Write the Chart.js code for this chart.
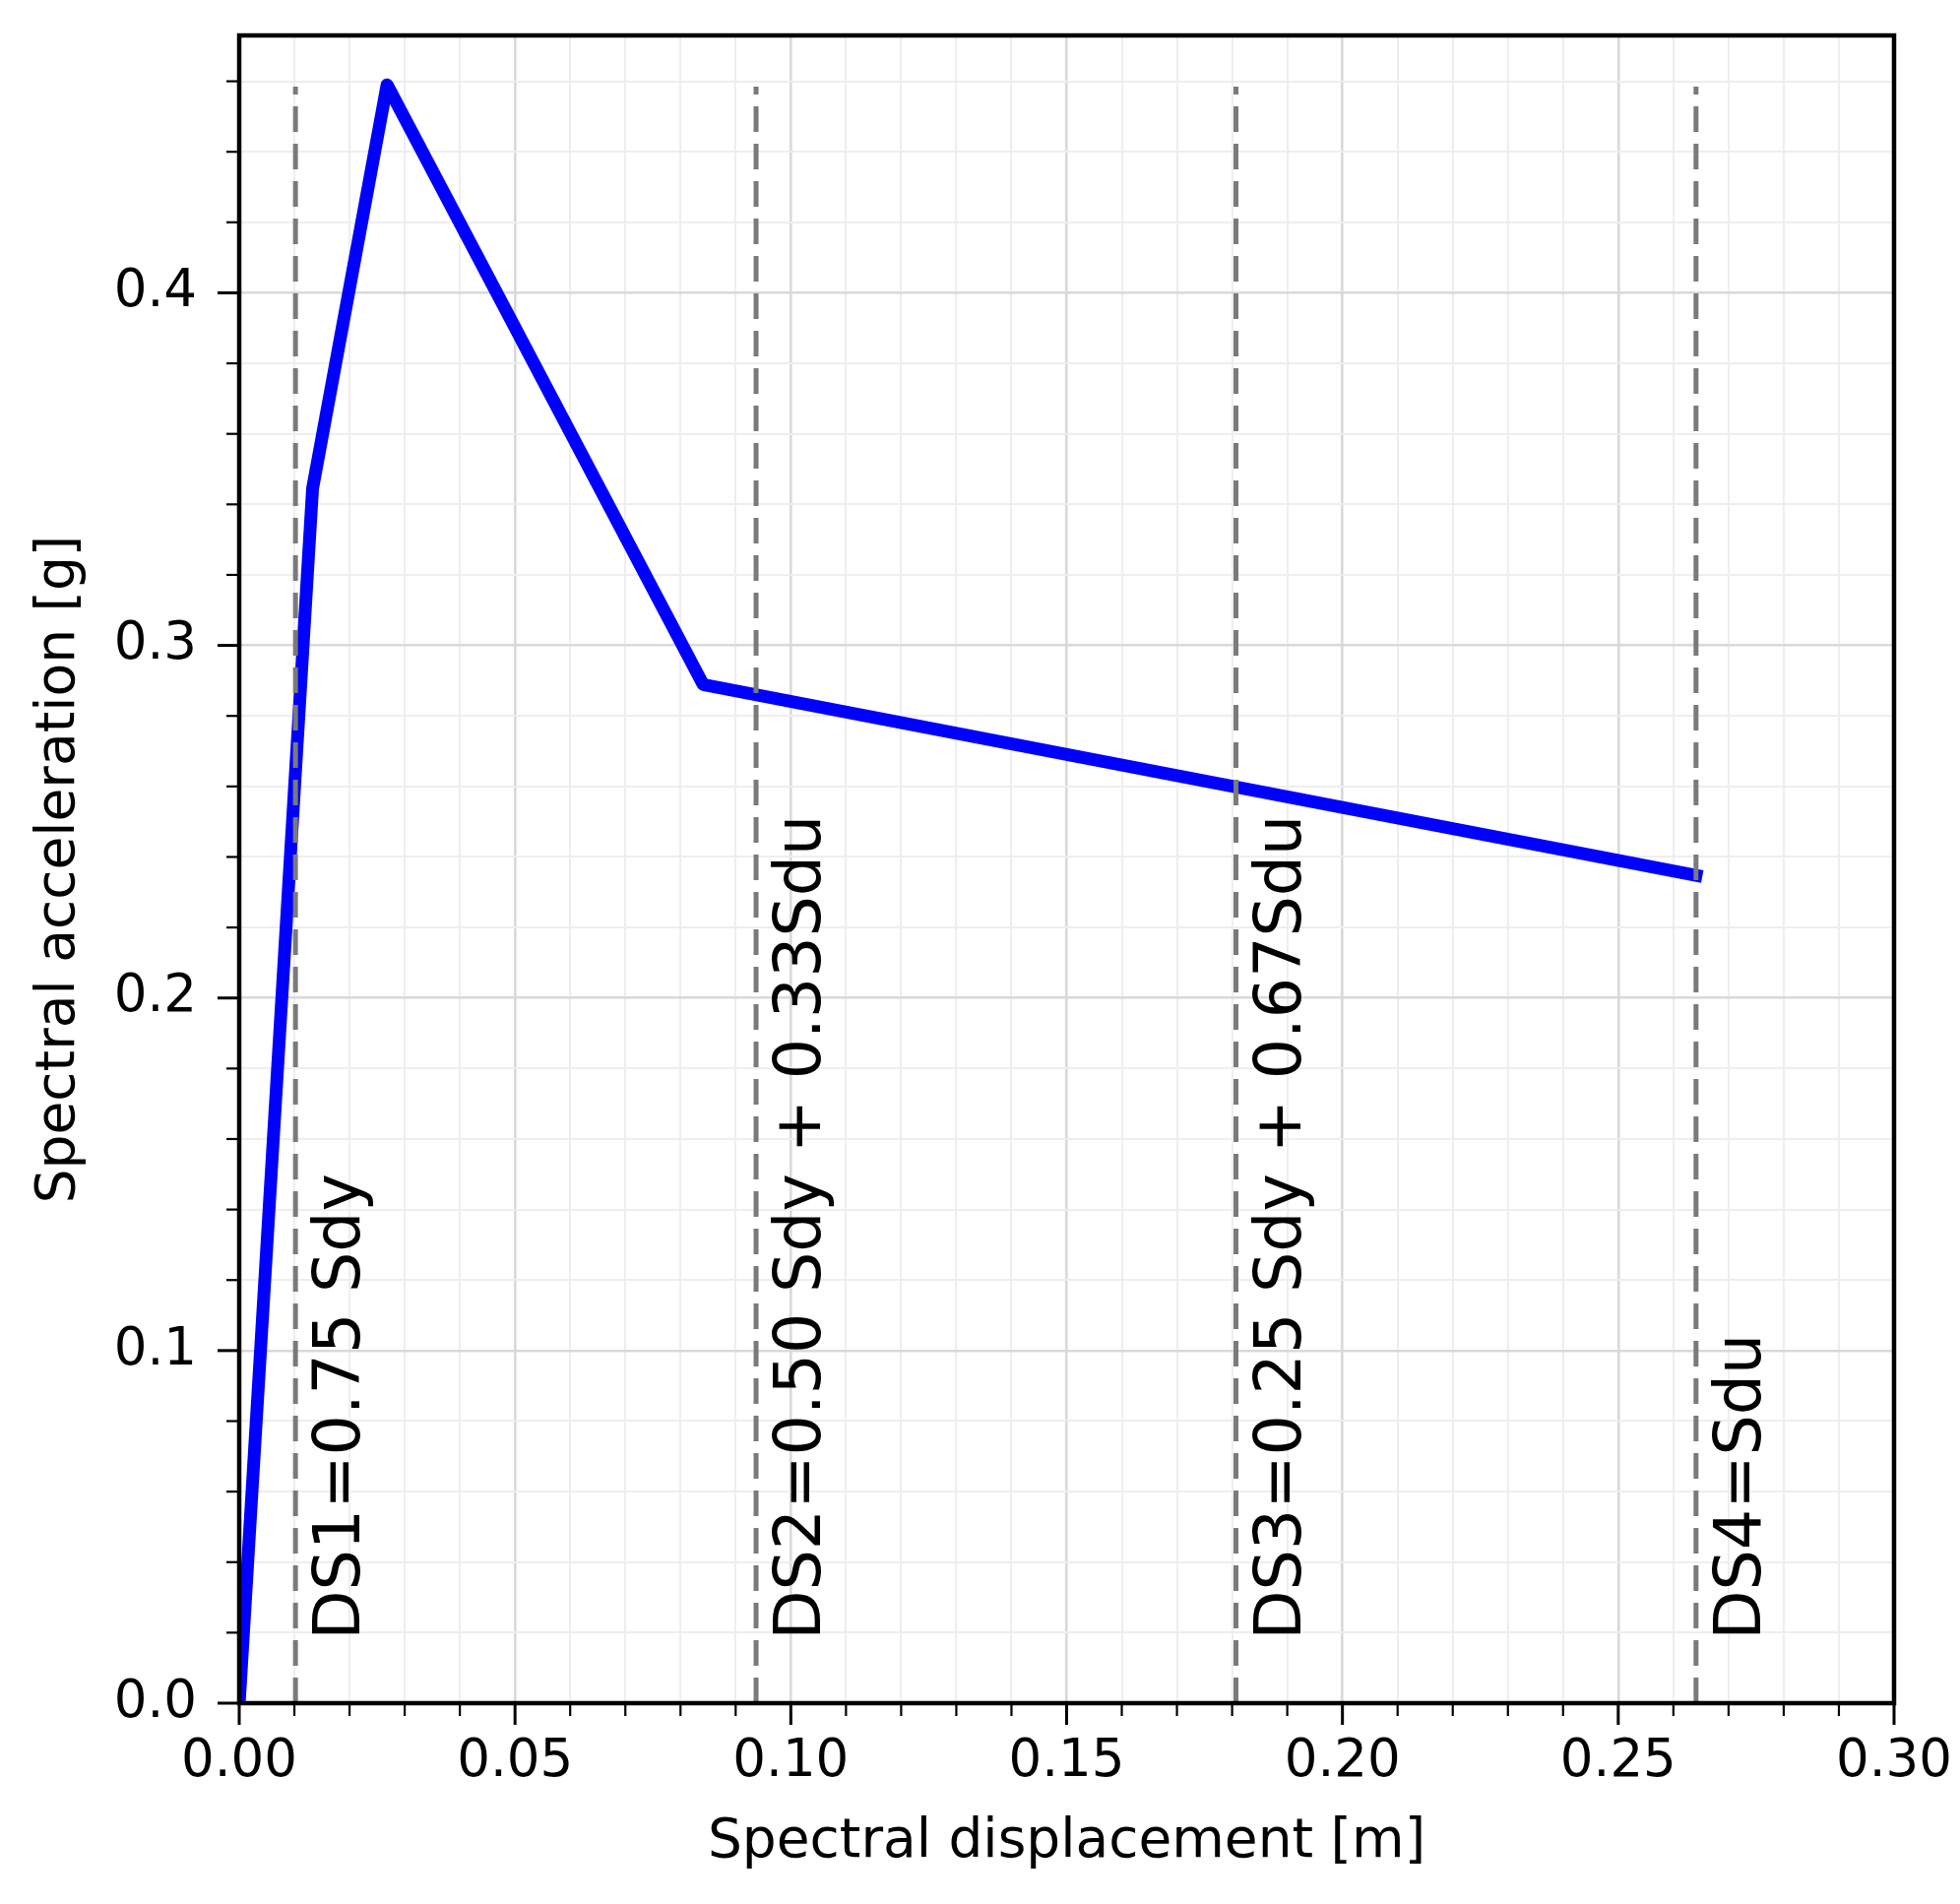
<!DOCTYPE html>
<html><head><meta charset="utf-8">
<script src="https://cdn.jsdelivr.net/npm/chart.js@4/dist/chart.umd.min.js"></script>
<style>html,body{margin:0;padding:0;background:#fff;} canvas{display:block;}</style>
</head><body>
<canvas id="c" width="1991" height="1934"></canvas>
<script>
// ---- data ----
const sdValues = [0, 0.0133, 0.0268, 0.0841, 0.2641];      // spectral displacement [m]
const saValues = [0, 0.3445, 0.4590, 0.2889, 0.2348];      // spectral acceleration [g]
const dsPositions = [0.0102, 0.0937, 0.1807, 0.2641];      // damage-state thresholds
const dsLabels = ['DS1=0.75 Sdy', 'DS2=0.50 Sdy + 0.33Sdu', 'DS3=0.25 Sdy + 0.67Sdu', 'DS4=Sdu'];
const dsLineRange = [0, 0.4585];
const dsLabelY = 0.018;
const xMajorTicks = [0.00, 0.05, 0.10, 0.15, 0.20, 0.25, 0.30];
const xTickLabels = ['0.00', '0.05', '0.10', '0.15', '0.20', '0.25', '0.30'];
const yMajorTicks = [0.0, 0.1, 0.2, 0.3, 0.4];
const yTickLabels = ['0.0', '0.1', '0.2', '0.3', '0.4'];
const xMinorStep = 0.01, yMinorStep = 0.02;
const xRange = [0, 0.30], yRange = [0, 0.473];

const FONT = 'DejaVu Sans';
function near(a, b) { return Math.abs(a - b) < 1e-9; }
function majorIndex(list, v) { return list.findIndex(m => near(m, v)); }
function buildTicks(min, max, step) {
  const out = []; const n = Math.floor((max - min) / step + 1e-6);
  for (let i = 0; i <= n; i++) out.push({ value: Math.round((min + i * step) * 1e6) / 1e6 });
  return out;
}
function zeroPad(s) { s.paddingLeft = 0; s.paddingRight = 0; s.paddingTop = 0; s.paddingBottom = 0; }

const curve = sdValues.map((x, i) => ({ x: x, y: saValues[i] }));
const dsDatasets = dsPositions.map(d => ({
  data: [{ x: d, y: dsLineRange[0] }, { x: d, y: dsLineRange[1] }],
  borderColor: '#7a7a7a', borderWidth: 5, borderDash: [26, 12],
  pointRadius: 0, showLine: true, order: 0
}));

const framePlugin = {
  id: 'frame',
  afterDatasetsDraw(chart) {
    const { ctx, chartArea: a, scales: { x, y } } = chart;
    ctx.save();
    ctx.strokeStyle = '#000'; ctx.lineCap = 'butt';
    x.ticks.forEach(t => {
      const px = x.getPixelForValue(t.value);
      const maj = majorIndex(xMajorTicks, t.value) >= 0;
      ctx.lineWidth = maj ? 3 : 2.2;
      ctx.beginPath(); ctx.moveTo(px, a.bottom); ctx.lineTo(px, a.bottom + (maj ? 22 : 13)); ctx.stroke();
    });
    y.ticks.forEach(t => {
      const py = y.getPixelForValue(t.value);
      const maj = majorIndex(yMajorTicks, t.value) >= 0;
      ctx.lineWidth = maj ? 3 : 2.2;
      ctx.beginPath(); ctx.moveTo(a.left, py); ctx.lineTo(a.left - (maj ? 22 : 13), py); ctx.stroke();
    });
    ctx.lineWidth = 4.5;
    ctx.strokeRect(a.left, a.top, a.right - a.left, a.bottom - a.top);
    ctx.fillStyle = '#000';
    ctx.font = '65px "' + FONT + '"';
    ctx.textAlign = 'left'; ctx.textBaseline = 'alphabetic';
    dsPositions.forEach((d, i) => {
      const px = x.getPixelForValue(d) + 65;
      const py = y.getPixelForValue(dsLabelY);
      ctx.save(); ctx.translate(px, py); ctx.rotate(-Math.PI / 2);
      ctx.fillText(dsLabels[i], 0, 0); ctx.restore();
    });
    ctx.restore();
  }
};

new Chart(document.getElementById('c'), {
  type: 'scatter',
  data: {
    datasets: [
      { data: curve, borderColor: '#0000ff', borderWidth: 13, showLine: true, pointRadius: 0,
        borderJoinStyle: 'round', borderCapStyle: 'square', tension: 0, order: 1 },
      ...dsDatasets
    ]
  },
  options: {
    responsive: false, animation: false, devicePixelRatio: 1,
    layout: { padding: { top: 36, right: 67, bottom: 0, left: 0 } },
    plugins: { legend: { display: false }, tooltip: { enabled: false }, title: { display: false } },
    scales: {
      x: {
        type: 'linear', min: xRange[0], max: xRange[1],
        afterBuildTicks: s => { s.ticks = buildTicks(xRange[0], xRange[1], xMinorStep); },
        afterFit: s => { s.height = 204; zeroPad(s); },
        ticks: {
          autoSkip: false, maxRotation: 0, minRotation: 0, padding: 28, color: '#000',
          font: { family: FONT, size: 53 },
          callback: v => { const i = majorIndex(xMajorTicks, v); return i >= 0 ? xTickLabels[i] : ''; }
        },
        grid: {
          drawTicks: false,
          color: c => (c.tick && majorIndex(xMajorTicks, c.tick.value) >= 0) ? '#d9d9d9' : '#eeeeee',
          lineWidth: c => (c.tick && majorIndex(xMajorTicks, c.tick.value) >= 0) ? 2.6 : 2
        },
        border: { display: false },
        title: { display: true, text: 'Spectral displacement [m]', color: '#000',
                 font: { family: FONT, size: 55 }, padding: { top: 0, bottom: 29 } }
      },
      y: {
        type: 'linear', min: yRange[0], max: yRange[1],
        afterBuildTicks: s => { s.ticks = buildTicks(yRange[0], yRange[1], yMinorStep); },
        afterFit: s => { s.width = 243; zeroPad(s); },
        ticks: {
          autoSkip: false, padding: 43, color: '#000',
          font: { family: FONT, size: 53 },
          callback: v => { const i = majorIndex(yMajorTicks, v); return i >= 0 ? yTickLabels[i] : ''; }
        },
        grid: {
          drawTicks: false,
          color: c => (c.tick && majorIndex(yMajorTicks, c.tick.value) >= 0) ? '#d9d9d9' : '#eeeeee',
          lineWidth: c => (c.tick && majorIndex(yMajorTicks, c.tick.value) >= 0) ? 2.6 : 2
        },
        border: { display: false },
        title: { display: true, text: 'Spectral acceleration [g]', color: '#000',
                 font: { family: FONT, size: 55 }, padding: { top: 28, bottom: 0 } }
      }
    }
  },
  plugins: [framePlugin]
});
</script>
</body></html>
